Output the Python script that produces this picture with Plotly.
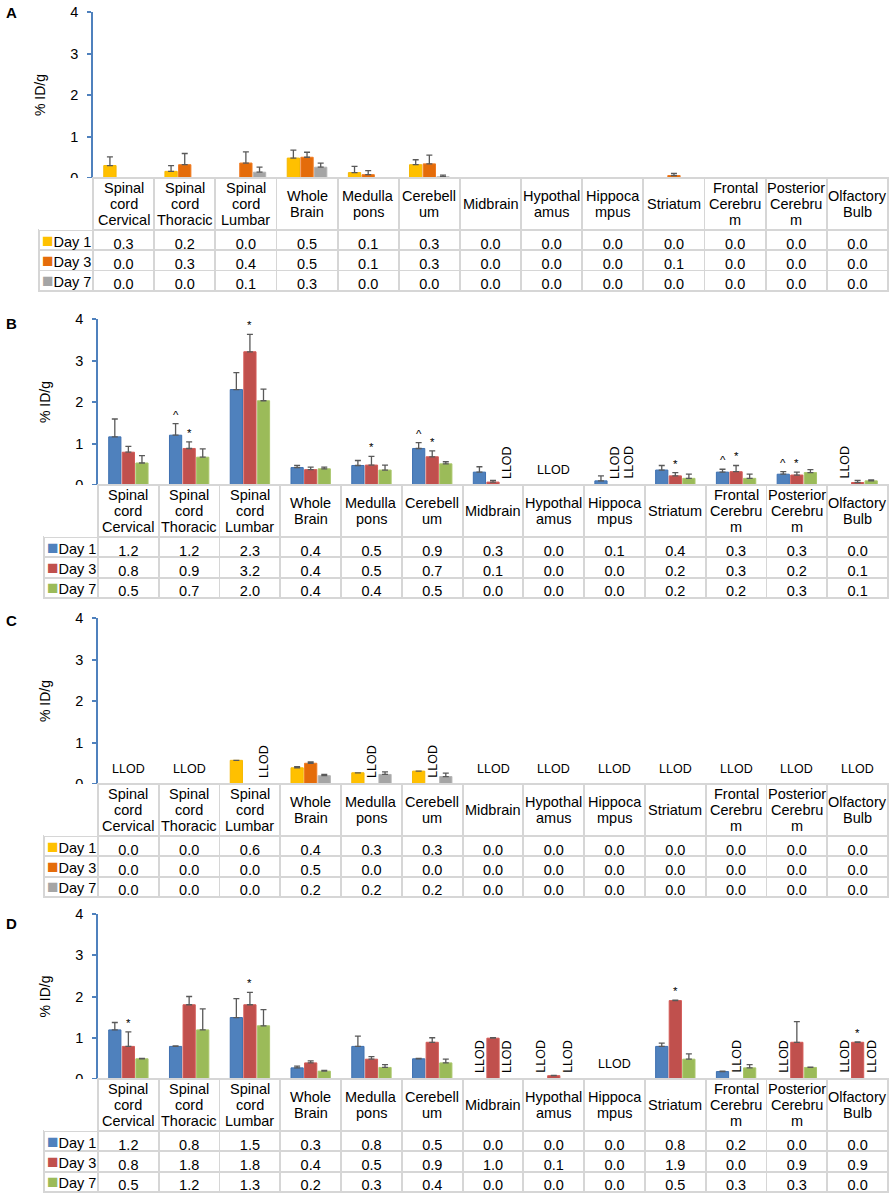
import plotly.graph_objects as go

W, H = 890, 1195
FONT = "Liberation Sans, Arial, sans-serif"

categories = ["Spinal<br>cord<br>Cervical", "Spinal<br>cord<br>Thoracic", "Spinal<br>cord<br>Lumbar",
              "Whole<br>Brain", "Medulla<br>pons", "Cerebell<br>um", "Midbrain", "Hypothal<br>amus",
              "Hippoca<br>mpus", "Striatum", "Frontal<br>Cerebru<br>m", "Posterior<br>Cerebru<br>m",
              "Olfactory<br>Bulb"]
days = ["Day 1", "Day 3", "Day 7"]

# panel A (mean %ID/g and upper error)
a_day1 = [0.30, 0.16, 0, 0.48, 0.13, 0.32, 0, 0, 0, 0, 0, 0, 0]
a_err1 = [0.21, 0.14, 0, 0.19, 0.15, 0.12, 0, 0, 0, 0, 0, 0, 0]
a_day3 = [0, 0.32, 0.36, 0.50, 0.08, 0.34, 0, 0, 0, 0.06, 0, 0, 0]
a_err3 = [0, 0.27, 0.27, 0.12, 0.10, 0.21, 0, 0, 0, 0.05, 0, 0, 0]
a_day7 = [0, 0, 0.14, 0.26, 0, 0.03, 0, 0, 0, 0, 0, 0, 0]
a_err7 = [0, 0, 0.12, 0.10, 0, 0.04, 0, 0, 0, 0, 0, 0, 0]

# panel B
b_day1 = [1.16, 1.20, 2.30, 0.42, 0.47, 0.88, 0.31, 0, 0.10, 0.36, 0.31, 0.26, 0]
b_err1 = [0.43, 0.28, 0.41, 0.05, 0.12, 0.14, 0.13, 0, 0.12, 0.11, 0.07, 0.06, 0]
b_day3 = [0.79, 0.88, 3.21, 0.37, 0.48, 0.68, 0.07, 0, 0, 0.22, 0.32, 0.24, 0.06]
b_err3 = [0.14, 0.16, 0.42, 0.06, 0.21, 0.14, 0.04, 0, 0, 0.08, 0.15, 0.07, 0.05]
b_day7 = [0.53, 0.67, 2.03, 0.39, 0.36, 0.51, 0, 0, 0, 0.16, 0.16, 0.30, 0.10]
b_err7 = [0.18, 0.20, 0.28, 0.04, 0.12, 0.05, 0, 0, 0, 0.10, 0.10, 0.07, 0.02]

# panel C
c_day1 = [0, 0, 0.57, 0.39, 0.27, 0.31, 0, 0, 0, 0, 0, 0, 0]
c_err1 = [0, 0, 0, 0.03, 0, 0, 0, 0, 0, 0, 0, 0, 0]
c_day3 = [0, 0, 0, 0.50, 0, 0, 0, 0, 0, 0, 0, 0, 0]
c_err3 = [0, 0, 0, 0.03, 0, 0, 0, 0, 0, 0, 0, 0, 0]
c_day7 = [0, 0, 0, 0.20, 0.23, 0.18, 0, 0, 0, 0, 0, 0, 0]
c_err7 = [0, 0, 0, 0.03, 0.06, 0.08, 0, 0, 0, 0, 0, 0, 0]

# panel D
d_day1 = [1.19, 0.79, 1.49, 0.27, 0.79, 0.49, 0, 0, 0, 0.79, 0.18, 0, 0]
d_err1 = [0.18, 0.01, 0.46, 0.04, 0.25, 0.01, 0, 0, 0, 0.08, 0.01, 0, 0]
d_day3 = [0.79, 1.80, 1.80, 0.39, 0.48, 0.89, 0.99, 0.08, 0, 1.90, 0, 0.89, 0.89]
d_err3 = [0.35, 0.20, 0.30, 0.05, 0.06, 0.11, 0.01, 0.01, 0, 0.01, 0, 0.50, 0.01]
d_day7 = [0.49, 1.19, 1.29, 0.19, 0.28, 0.39, 0, 0, 0, 0.48, 0.27, 0.28, 0]
d_err7 = [0.01, 0.51, 0.39, 0.02, 0.07, 0.09, 0, 0, 0, 0.13, 0.08, 0.01, 0]

# significance marks: (category, day index, symbol)
b_marks = [(1, 0, "^"), (1, 1, "*"), (2, 1, "*"), (4, 1, "*"), (5, 0, "^"), (5, 1, "*"),
           (9, 1, "*"), (10, 0, "^"), (10, 1, "*"), (11, 0, "^"), (11, 1, "*")]
d_marks = [(0, 1, "*"), (2, 1, "*"), (9, 1, "*"), (12, 1, "*")]

# below detection limit: single bars (category, day index) and whole categories
b_llod = [(6, 2), (8, 1), (8, 2), (12, 0)]
b_llod_all = [7]
c_llod = [(2, 2), (4, 1), (5, 1)]
c_llod_all = [0, 1, 6, 7, 8, 9, 10, 11, 12]
d_llod = [(6, 0), (6, 2), (7, 0), (7, 2), (10, 1), (11, 0), (12, 0), (12, 2)]
d_llod_all = [8]

warm = ["#FFC000", "#E46C0A", "#A5A5A5"]
warm_line = ["#F5B800", "#F07A20", "#B4B4B4"]
cool = ["#4F81BD", "#C0504D", "#9BBB59"]
cool_line = ["#3E70B0", "#D45A56", "#A9C66A"]

panels = [
    dict(letter="A", means=[a_day1, a_day3, a_day7], errs=[a_err1, a_err3, a_err7], colors=warm,
         lines=warm_line, marks=[], llod=[], llod_all=[], top=12, zero=178, ax=93, left=39, lab=12),
    dict(letter="B", means=[b_day1, b_day3, b_day7], errs=[b_err1, b_err3, b_err7], colors=cool,
         lines=cool_line, marks=b_marks, llod=b_llod, llod_all=b_llod_all, top=319, zero=485, ax=98, left=44,
         lab=324),
    dict(letter="C", means=[c_day1, c_day3, c_day7], errs=[c_err1, c_err3, c_err7], colors=warm,
         lines=warm_line, marks=[], llod=c_llod, llod_all=c_llod_all, top=618, zero=784, ax=98, left=44,
         lab=620),
    dict(letter="D", means=[d_day1, d_day3, d_day7], errs=[d_err1, d_err3, d_err7], colors=cool,
         lines=cool_line, marks=d_marks, llod=d_llod, llod_all=d_llod_all, top=914, zero=1079, ax=98, left=44,
         lab=923),
]

BARGAP = 0.33
HEAD_H = 52
ROW_H = 20.3
LINE_H = 15.8
GRID = "#D6D6D6"
AXIS_BLUE = "#4F81BD"


def py(v):
    return 1 - v / H


def slot(i, k):
    # centre of bar k inside category i
    return i + (k - 1) * (1 - BARGAP) / 3


fig = go.Figure()
annotations = []
xs = list(range(len(categories)))
txt = dict(family=FONT, size=14.5, color="black")

for n, p in enumerate(panels):
    sfx = "" if n == 0 else str(n + 1)
    for k in range(3):
        vals = p["means"][k]
        errs = p["errs"][k]
        fig.add_trace(go.Bar(
            x=xs, y=[v if v > 0 else None for v in vals], name=days[k],
            marker=dict(color=p["colors"][k], line=dict(color=p["lines"][k], width=1)),
            error_y=dict(type="data", symmetric=False,
                         array=[e if v > 0 else None for v, e in zip(vals, errs)],
                         arrayminus=[0] * len(vals), color="#595959", thickness=1.3, width=3),
            xaxis="x" + sfx, yaxis="y" + sfx, showlegend=False))

    # data table underneath (legend column filled in by annotations)
    cols = [[""] * 3] + [["%.1f" % p["means"][k][i] for k in range(3)] for i in xs]
    col_w = (W - 2 - p["ax"]) / len(categories)
    bottom = p["zero"] + HEAD_H + 3 * ROW_H + 3
    fig.add_trace(go.Table(
        domain=dict(x=[p["left"] / W, (W - 2) / W], y=[py(bottom), py(p["zero"])]),
        columnwidth=[p["ax"] - p["left"]] + [col_w] * len(categories),
        header=dict(values=[""] * (len(categories) + 1), height=HEAD_H,
                    fill_color="white",
                    line=dict(color=["white"] + [GRID] * len(categories),
                              width=[0] + [1.8] * len(categories))),
        cells=dict(values=cols, height=ROW_H, align="center", fill_color="white",
                   line=dict(color=GRID, width=1.8), font=txt)))

    for k in range(3):
        annotations.append(dict(
            x=(p["left"] + p["ax"]) / 2 / W, y=py(p["zero"] + HEAD_H + ROW_H * (k + 0.5)),
            xref="paper", yref="paper", showarrow=False, xanchor="center", yanchor="middle", font=txt,
            text='<span style="font-size:19px;color:%s">■</span>%s' % (p["colors"][k], days[k])))

    # category labels in the table header, one annotation per line for tight spacing
    for i, c in enumerate(categories):
        parts = c.split("<br>")
        for j, part in enumerate(parts):
            annotations.append(dict(x=i, y=py(p["zero"] + HEAD_H / 2), xref="x" + sfx, yref="paper",
                                    yshift=-(j - (len(parts) - 1) / 2) * LINE_H,
                                    text=part, showarrow=False, font=txt, xanchor="center", yanchor="middle"))

    for i, k, s in p["marks"]:
        annotations.append(dict(x=slot(i, k), y=p["means"][k][i] + p["errs"][k][i], xref="x" + sfx,
                                yref="y" + sfx, text=s, showarrow=False, yanchor="bottom", yshift=1,
                                font=dict(family=FONT, size=11.5, color="black")))
    for i, k in p["llod"]:
        annotations.append(dict(x=slot(i, k), y=0, xref="x" + sfx, yref="y" + sfx, text="LLOD",
                                textangle=-90, showarrow=False, yanchor="bottom", yshift=4,
                                font=dict(family=FONT, size=12.5, color="black")))
    for i in p["llod_all"]:
        annotations.append(dict(x=i, y=0, xref="x" + sfx, yref="y" + sfx, text="LLOD",
                                showarrow=False, yanchor="bottom", yshift=6,
                                font=dict(family=FONT, size=12.5, color="black")))

    annotations.append(dict(x=11 / W, y=py(p["lab"]), xref="paper", yref="paper", text="<b>%s</b>" % p["letter"],
                            showarrow=False, xanchor="center", yanchor="middle",
                            font=dict(family=FONT, size=15, color="black")))

    fig.update_layout({
        "xaxis" + sfx: dict(domain=[p["ax"] / W, (W - 2) / W], range=[-0.5, len(categories) - 0.5],
                            visible=False, anchor="y" + sfx),
        "yaxis" + sfx: dict(domain=[py(p["zero"]), py(p["top"])], range=[0, 4], dtick=1,
                            anchor="x" + sfx, showgrid=False, zeroline=False, showline=True,
                            linecolor=AXIS_BLUE, linewidth=1.5, ticks="outside", ticklen=4,
                            tickcolor=AXIS_BLUE, tickwidth=1.5, ticklabelstandoff=6,
                            tickfont=dict(family=FONT, size=14.5, color="black"),
                            title=dict(text="% ID/g", standoff=21, font=dict(family=FONT, size=14, color="black"))),
    })

fig.update_layout(
    template="none", width=W, height=H, margin=dict(l=0, r=0, t=0, b=0),
    paper_bgcolor="white", plot_bgcolor="rgba(0,0,0,0)",
    barmode="group", bargap=BARGAP, bargroupgap=0.1,
    annotations=annotations, showlegend=False,
)

fig.write_html("out.html", config={"displayModeBar": False},
               post_script="document.body.style.margin='0';")
